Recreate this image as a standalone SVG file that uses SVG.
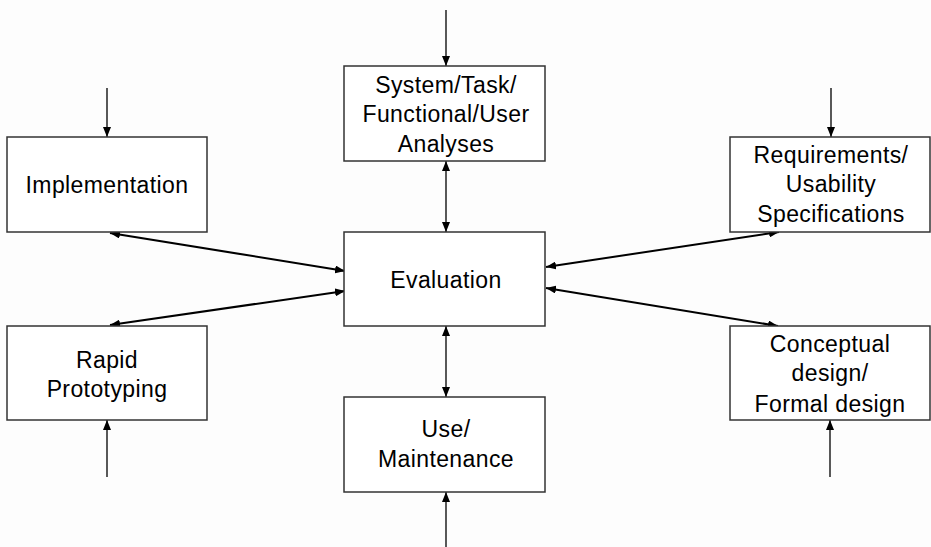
<svg xmlns="http://www.w3.org/2000/svg" width="931" height="547" viewBox="0 0 931 547">
<defs>
<marker id="ah" viewBox="0 0 10 8" refX="10" refY="4" markerWidth="10" markerHeight="8" markerUnits="userSpaceOnUse" orient="auto-start-reverse">
<path d="M0,0 L10,4 L0,8 Z" fill="#000"/>
</marker>
<style>
.box{fill:#fff;stroke:#333;stroke-width:1.5}
.t{font-family:"Liberation Sans",Arial,sans-serif;font-size:23px;letter-spacing:0.4px;fill:#000;text-anchor:middle}
.c{stroke:#000;stroke-width:1.3;fill:none}
.d{stroke:#000;stroke-width:2;fill:none}
</style>
</defs>
<rect width="931" height="547" fill="#fdfdfd"/>
<g id="connectors">
<line class="c" x1="107" y1="88" x2="107" y2="137" marker-end="url(#ah)"/>
<line class="c" x1="446" y1="10" x2="446" y2="66" marker-end="url(#ah)"/>
<line class="c" x1="831" y1="88" x2="831" y2="137" marker-end="url(#ah)"/>
<line class="c" x1="446" y1="161" x2="446" y2="232" marker-start="url(#ah)" marker-end="url(#ah)"/>
<line class="c" x1="446" y1="326" x2="446" y2="397" marker-start="url(#ah)" marker-end="url(#ah)"/>
<line class="c" x1="107" y1="477" x2="107" y2="420" marker-end="url(#ah)"/>
<line class="c" x1="446" y1="547" x2="446" y2="492" marker-end="url(#ah)"/>
<line class="c" x1="830" y1="477" x2="830" y2="420" marker-end="url(#ah)"/>
<line class="d" x1="110" y1="233" x2="345" y2="271" marker-start="url(#ah)" marker-end="url(#ah)"/>
<line class="d" x1="110" y1="325" x2="345" y2="291" marker-start="url(#ah)" marker-end="url(#ah)"/>
<line class="d" x1="546" y1="267" x2="779" y2="232" marker-start="url(#ah)" marker-end="url(#ah)"/>
<line class="d" x1="546" y1="288" x2="778" y2="326" marker-start="url(#ah)" marker-end="url(#ah)"/>
</g>
<g id="implementation">
<rect class="box" x="7" y="137" width="200" height="95"/>
<text class="t" x="107" y="193">Implementation</text>
</g>
<g id="analyses">
<rect class="box" x="344" y="66" width="201" height="95"/>
<text class="t" x="446" y="93">System/Task/</text>
<text class="t" x="446" y="122">Functional/User</text>
<text class="t" x="446" y="152">Analyses</text>
</g>
<g id="requirements">
<rect class="box" x="730" y="137" width="200" height="95"/>
<text class="t" x="831" y="163">Requirements/</text>
<text class="t" x="831" y="192">Usability</text>
<text class="t" x="831" y="222">Specifications</text>
</g>
<g id="evaluation">
<rect class="box" x="344" y="232" width="201" height="94"/>
<text class="t" x="446" y="288">Evaluation</text>
</g>
<g id="prototyping">
<rect class="box" x="7" y="326" width="200" height="94"/>
<text class="t" x="107" y="368">Rapid</text>
<text class="t" x="107" y="397">Prototyping</text>
</g>
<g id="use">
<rect class="box" x="344" y="397" width="201" height="95"/>
<text class="t" x="446" y="437">Use/</text>
<text class="t" x="446" y="467">Maintenance</text>
</g>
<g id="conceptual">
<rect class="box" x="730" y="326" width="200" height="94"/>
<text class="t" x="830" y="352">Conceptual</text>
<text class="t" x="830" y="381">design/</text>
<text class="t" x="830" y="412">Formal design</text>
</g>
</svg>
